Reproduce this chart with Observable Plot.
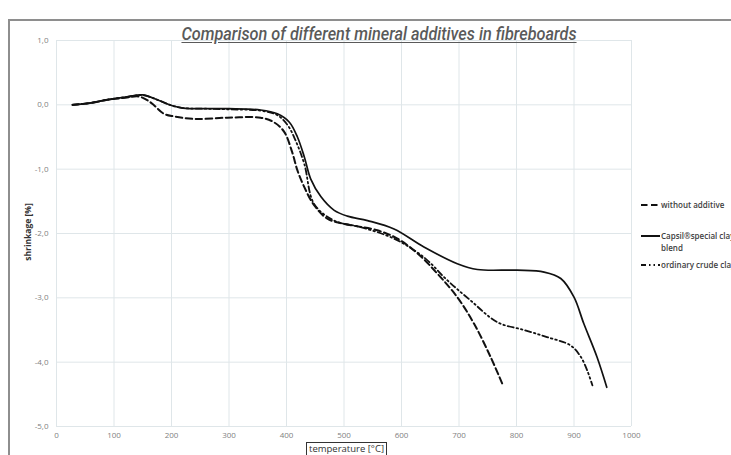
<!DOCTYPE html>
<html><head><meta charset="utf-8">
<script src="https://cdn.jsdelivr.net/npm/d3@7"></script>
<script src="https://cdn.jsdelivr.net/npm/@observablehq/plot@0.6"></script>
<style>
html,body{margin:0;padding:0;background:#fff;overflow:hidden;width:731px;height:455px}
#wrap{position:relative;width:731px;height:455px;overflow:hidden}
#frame{position:absolute;left:8px;top:19px;width:900px;height:600px;border:2px solid #8e8e8e;box-sizing:border-box}
#title{position:absolute;left:379px;top:24px;transform:translateX(-50%) scaleX(0.93);transform-origin:center;font-family:"Roboto",sans-serif;font-style:italic;font-weight:500;font-size:17.5px;color:#5a5a5a;text-decoration:underline;text-underline-offset:2px;white-space:nowrap}
.lg{position:absolute;font-family:"Open Sans","DejaVu Sans",sans-serif;font-weight:600;font-size:8px;color:#404040;white-space:nowrap;line-height:12px}
.sym{position:absolute}
#ylab{position:absolute;left:27px;top:232px;transform:translate(-50%,-50%) rotate(-90deg);font-family:"Open Sans",sans-serif;font-weight:700;font-size:8.5px;color:#333;white-space:nowrap}
#xlab{position:absolute;left:306px;top:442px;border:1px solid #333;padding:0 2px;font-family:"Open Sans",sans-serif;font-size:9.5px;color:#333;line-height:12px;white-space:nowrap;background:#fff}
#plot{position:absolute;left:0;top:0}
</style></head>
<body><div id="wrap">
<div id="frame"></div>
<div id="plot"></div>
<div id="title">Comparison of different mineral additives in fibreboards</div>
<div id="ylab">shrinkage [%]</div>
<div id="xlab">temperature [°C]</div>
<div id="legend"></div>
</div>
<script>
// Data
const capsilT = [28, 60, 89, 120, 150, 175, 200, 220, 260, 300, 355, 384, 405, 419, 431, 442, 460, 483, 506, 541, 587, 639, 697, 732, 801, 848, 877, 900, 917, 940, 957];
const capsilS = [0, 0.03, 0.08, 0.12, 0.155, 0.08, -0.01, -0.05, -0.06, -0.06, -0.08, -0.14, -0.27, -0.50, -0.81, -1.15, -1.43, -1.64, -1.73, -1.80, -1.93, -2.21, -2.47, -2.56, -2.57, -2.60, -2.70, -2.99, -3.40, -3.92, -4.39];

const withoutT = [28, 60, 89, 120, 143, 160, 170, 187, 205, 240, 297, 355, 378, 396, 410, 419, 431, 448, 471, 500, 558, 593, 628, 662, 697, 726, 755, 775];
const withoutS = [0, 0.03, 0.08, 0.11, 0.13, 0.06, -0.01, -0.14, -0.18, -0.22, -0.20, -0.20, -0.27, -0.42, -0.74, -1.02, -1.28, -1.56, -1.77, -1.85, -1.95, -2.08, -2.31, -2.62, -2.99, -3.40, -3.92, -4.33];

const crudeT = [28, 60, 89, 120, 150, 175, 200, 220, 260, 300, 355, 384, 403, 416, 431, 448, 483, 529, 587, 639, 680, 720, 767, 813, 853, 894, 912, 923, 932];
const crudeS = [0, 0.03, 0.08, 0.12, 0.15, 0.08, -0.01, -0.05, -0.06, -0.07, -0.09, -0.16, -0.33, -0.56, -0.92, -1.54, -1.80, -1.90, -2.08, -2.37, -2.73, -3.04, -3.38, -3.50, -3.61, -3.74, -3.92, -4.13, -4.36];

const xTicks = [0, 100, 200, 300, 400, 500, 600, 700, 800, 900, 1000];
const yTicks = [1, 0, -1, -2, -3, -4, -5];
const seriesNames = ["without additive", "Capsil®special clay blend", "ordinary crude clay"];

const toRows = (T, S) => T.map((t, i) => ({t, s: S[i]}));
const dashWithout = "6.5,3.5";
const dashCrude = "6,3,1.5,3,1.5,3";
const gridColor = "#dfe6e9";
const yFmt = d => d.toFixed(1).replace(".", ",");

const chart = Plot.plot({
  width: 731, height: 455,
  marginLeft: 56, marginRight: 100, marginTop: 40, marginBottom: 29,
  style: {background: "transparent", fontFamily: "'Open Sans', sans-serif"},
  x: {domain: [0, 1000], label: null},
  y: {domain: [-5, 1], label: null},
  marks: [
    Plot.ruleX(xTicks, {stroke: gridColor, strokeWidth: 1}),
    Plot.ruleY(yTicks, {stroke: gridColor, strokeWidth: 1}),
    Plot.axisX({ticks: xTicks, tickSize: 0, tickPadding: 6, fontSize: 8, fill: "#7f7f7f", label: null, tickFormat: d => String(d)}),
    Plot.axisY({ticks: yTicks, tickSize: 0, tickPadding: 8, fontSize: 8, fill: "#7f7f7f", label: null, tickFormat: yFmt}),
    Plot.line(toRows(crudeT, crudeS), {x: "t", y: "s", curve: "catmull-rom", stroke: "#111", strokeWidth: 1.8, strokeDasharray: dashCrude}),
    Plot.line(toRows(withoutT, withoutS), {x: "t", y: "s", curve: "catmull-rom", stroke: "#111", strokeWidth: 2, strokeDasharray: dashWithout}),
    Plot.line(toRows(capsilT, capsilS), {x: "t", y: "s", curve: "catmull-rom", stroke: "#111", strokeWidth: 1.7})
  ]
});
document.getElementById("plot").appendChild(chart);

// Legend (HTML overlay)
const lg = document.getElementById("legend");
const items = [
  {name: seriesNames[0], dash: dashWithout, y: 205},
  {name: seriesNames[1], dash: null, y: 236},
  {name: seriesNames[2], dash: "5,3,1.5,3,1.5,3", y: 265}
];
items.forEach(it => {
  const svg = d3.create("svg").attr("class", "sym").attr("width", 20).attr("height", 6)
    .style("left", "641px").style("top", (it.y - 3) + "px");
  svg.append("line").attr("x1", 0).attr("x2", 19).attr("y1", 3).attr("y2", 3)
    .attr("stroke", "#111").attr("stroke-width", 2).attr("stroke-dasharray", it.dash);
  lg.appendChild(svg.node());
  const d = document.createElement("div");
  d.className = "lg";
  d.style.left = "661px"; d.style.top = (it.y - 6) + "px";
  if (it.name.startsWith("Capsil")) {
    d.innerHTML = "Capsil®special clay<br>blend";
  } else d.textContent = it.name;
  lg.appendChild(d);
});
</script>
</body></html>
